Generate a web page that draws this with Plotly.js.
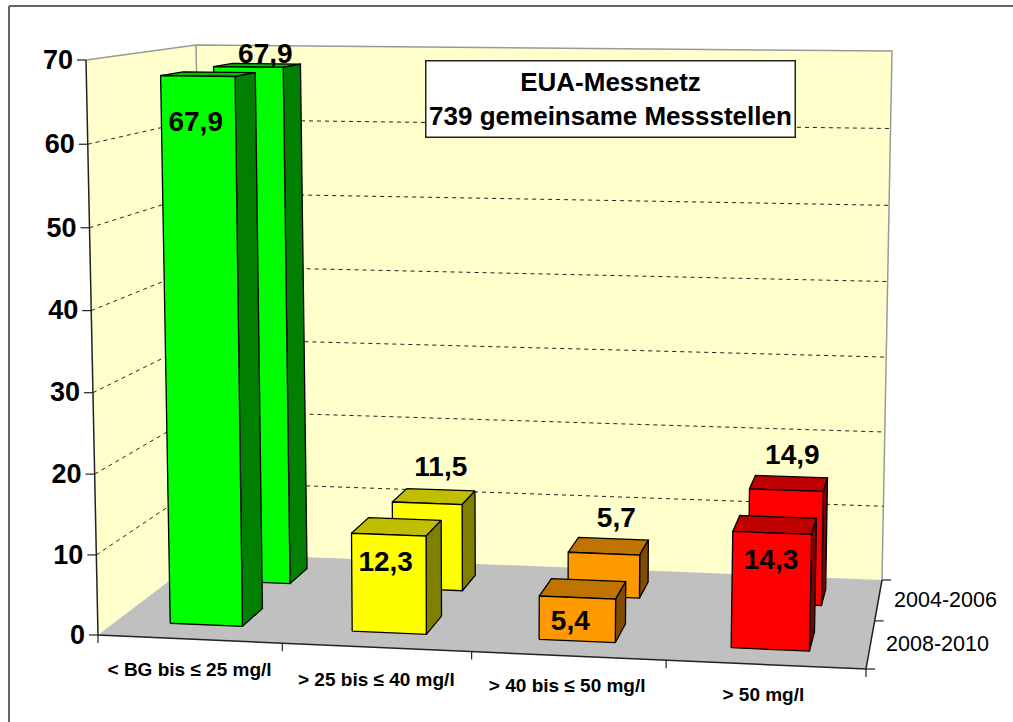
<!DOCTYPE html>
<html><head><meta charset="utf-8">
<script src="https://cdn.plot.ly/plotly-3.0.1.min.js"></script>
<style>html,body{margin:0;padding:0;background:#fff}#c{width:1013px;height:722px}</style>
</head><body><div id="c"></div>
<script>
// ---- data ----
const categories = ['< BG bis ≤ 25 mg/l', '> 25 bis ≤ 40 mg/l', '> 40 bis ≤ 50 mg/l', '> 50 mg/l'];
const seriesNames = ['2008-2010', '2004-2006'];
const values2008 = [67.9, 12.3, 5.4, 14.3];
const values2004 = [67.9, 11.5, 5.7, 14.9];
const valueTicks = [0, 10, 20, 30, 40, 50, 60, 70];
const gridValues = [10, 20, 30, 40, 50, 60];
const faceColors = ['#00FF00', '#FFFF00', '#FF9900', '#FF0000'];
const sideColors = ['#007F00', '#808000', '#804C00', '#7F0000'];
const topColors  = ['#00BF00', '#BFBF00', '#BF7300', '#BF0000'];
// label nudges (px) relative to the projected anchor
const nudge2008 = [[-2, 48], [-3, 29], [-7, 25], [-1, 29]];
const nudge2004 = [[-1, -8], [0, -21], [3, -19], [1, -20]];
const catNudge  = [[0, 32], [0, 34], [-1, 31], [-2, 32]];

// ---- oblique perspective scale of the 3-D box ----
const F = {a:[98,635], b:[866,669], c:[206,553], d:[882,580]};
const T = {a:[86,60],  b:[879,70],  c:[196,45],  d:[892,51]};
const persp = (f,k) => f/(f+k*(1-f));
const lerp = (p,q,t) => [p[0]+(q[0]-p[0])*t, p[1]+(q[1]-p[1])*t];
const bil = (S,u,d) => lerp(lerp(S.a,S.b,u), lerp(S.c,S.d,u), d);
function P(wx, wd, v){
  const u = persp(wx,1.0555), d = persp(wd,0.85), t = persp(v/70,1.03);
  return lerp(bil(F,u,d), bil(T,u,d), t);
}
const traces = [];
function poly(pts, fill, line, lw){
  const c = pts.concat([pts[0]]);
  traces.push({x:c.map(p=>p[0]), y:c.map(p=>p[1]), mode:'lines', fill:'toself', fillcolor:fill,
    line:{color:line||fill, width:lw===undefined?1.3:lw}, hoverinfo:'skip', showlegend:false});
}
function path(segs, color, width, dash){
  const x=[],y=[];
  segs.forEach(s=>{s.forEach(p=>{x.push(p[0]);y.push(p[1]);}); x.push(null);y.push(null);});
  traces.push({x,y,mode:'lines',line:{color,width,dash:dash||'solid'},hoverinfo:'skip',showlegend:false});
}
function texts(pts, labels, size, bold, pos, color){
  traces.push({x:pts.map(p=>p[0]), y:pts.map(p=>p[1]), text:labels, mode:'text', textposition:pos||'middle center',
    textfont:{family:'Liberation Sans, Arial, sans-serif', size, color:color||'#000', weight:bold?'bold':'normal'},
    hoverinfo:'skip', showlegend:false});
}
// walls + floor
poly([P(0,0,0),P(0,1,0),P(0,1,70),P(0,0,70)], '#FFFFCC', '#FFFFCC', 0);
poly([P(0,1,0),P(1,1,0),P(1,1,70),P(0,1,70)], '#FFFFCC', '#FFFFCC', 0);
poly([P(0,0,0),P(1,0,0),P(1,1,0),P(0,1,0)], '#C0C0C0', '#C0C0C0', 0);
// wall borders
path([[P(0,0,70),P(0,1,70),P(1,1,70),P(1,1,0)], [P(0,1,70),P(0,1,0)]], '#999999', 1.5);
path([[P(0,0,70),P(0,0,0),P(1,0,0),P(1,1,0)]], '#222222', 1.5);
// grid lines
path(gridValues.map(v=>[P(0,0,v),P(0,1,v),P(1,1,v)]), '#222222', 1, '4px,4px');
// ticks
const tickSegs = [];
valueTicks.forEach(v=>{const p=P(0,0,v); tickSegs.push([[p[0]-9,p[1]],p]);});
[0,0.25,0.5,0.75,1].forEach(w=>{const p=P(w,0,0); tickSegs.push([p,[p[0],p[1]+8]]);});
[0,0.5,1].forEach(w=>{const p=P(1,w,0); tickSegs.push([p,[p[0]+9,p[1]]]);});
path(tickSegs, '#222222', 1.2);

// bars: back series first, then front series
function bar(i, wd0, wd1, v){
  const w0=(i+0.3)/4, w1=(i+0.7)/4;
  poly([P(w0,wd0,v),P(w1,wd0,v),P(w1,wd1,v),P(w0,wd1,v)], topColors[i], '#000');
  poly([P(w1,wd0,0),P(w1,wd1,0),P(w1,wd1,v),P(w1,wd0,v)], sideColors[i], '#000');
  poly([P(w0,wd0,0),P(w1,wd0,0),P(w1,wd0,v),P(w0,wd0,v)], faceColors[i], '#000');
}
values2004.forEach((v,i)=>bar(i,0.65,0.85,v));
values2008.forEach((v,i)=>bar(i,0.15,0.35,v));

const fmt = v => v.toFixed(1).replace('.',',');
const mid = i => (i+0.5)/4;
const labFont = 28;
texts(values2004.map((v,i)=>{const p=P(mid(i),0.85,v);return [p[0]+nudge2004[i][0],p[1]+nudge2004[i][1]];}), values2004.map(fmt), labFont, true);
texts(values2008.map((v,i)=>{const p=P(mid(i),0.15,v);return [p[0]+nudge2008[i][0],p[1]+nudge2008[i][1]];}), values2008.map(fmt), labFont, true);
texts(valueTicks.map(v=>{const p=P(0,0,v);return [p[0]-13,p[1]+2];}), valueTicks.map(String), 27, true, 'middle left');
texts(categories.map((c,i)=>{const p=P(mid(i),0,0);return [p[0]+catNudge[i][0],p[1]+catNudge[i][1]];}), categories, 19, true);
texts(seriesNames.map((s,i)=>{const p=P(1,i===0?0.25:0.75,0);return [p[0]+67,p[1]+2];}), seriesNames, 21.5, false);

const layout = {
  width:1013, height:722, margin:{l:0,r:0,t:0,b:0}, paper_bgcolor:'#fff', plot_bgcolor:'#fff', showlegend:false,
  xaxis:{range:[0,1013],visible:false,fixedrange:true},
  yaxis:{range:[722,0],visible:false,fixedrange:true},
  shapes:[
    {type:'line',xref:'x',yref:'y',x0:9,y0:6,x1:1013,y1:6,line:{color:'#666',width:2}},
    {type:'line',xref:'x',yref:'y',x0:9,y0:6,x1:9,y1:722,line:{color:'#666',width:2}}
  ],
  annotations:[{xref:'x',yref:'y',x:610,y:98.5,showarrow:false,align:'center',width:368,height:75,
    text:'<b>EUA-Messnetz</b><br><b>739 gemeinsame Messstellen</b>',
    font:{family:'Liberation Sans, Arial, sans-serif',size:26,color:'#000'},
    bgcolor:'#fff',bordercolor:'#222',borderwidth:1.5,borderpad:0}]
};
Plotly.newPlot('c', traces, layout, {displayModeBar:false, staticPlot:true});
</script></body></html>
